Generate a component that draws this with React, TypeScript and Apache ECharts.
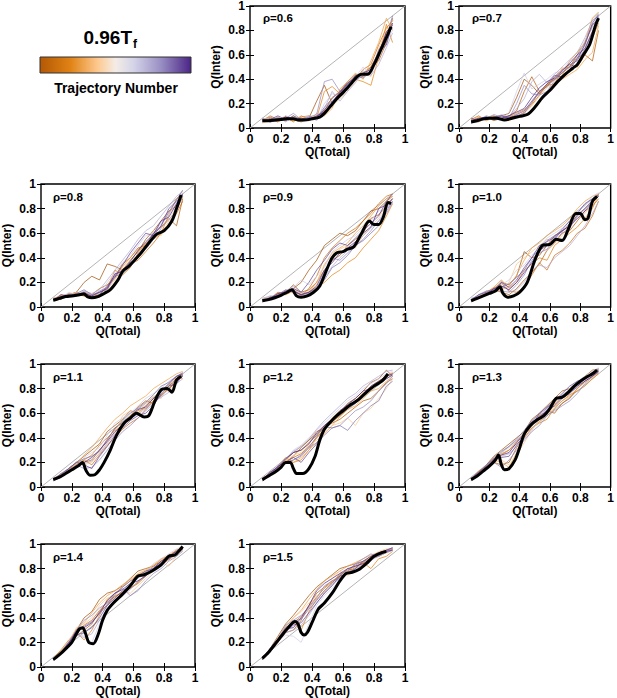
import React, { useEffect, useRef } from 'react';
import * as echarts from 'echarts';

const FONT = '"Liberation Sans", Arial, Helvetica, sans-serif';

// shared Q(Total) grid for the thin trajectories
const TX = [0.08, 0.13, 0.18, 0.23, 0.28, 0.33, 0.38, 0.43, 0.48, 0.53, 0.58, 0.63, 0.68, 0.73, 0.78, 0.83, 0.88, 0.92];

const TRAJ_COLORS = ['#a0500a', '#b35806', '#cc6a10', '#e08214', '#eea24a', '#f8c98f', '#cfcde6', '#b2abd2', '#978cc3', '#8073ac', '#65499b', '#4f2a87'];

const RHO_LABELS = ['ρ=0.6', 'ρ=0.7', 'ρ=0.8', 'ρ=0.9', 'ρ=1.0', 'ρ=1.1', 'ρ=1.2', 'ρ=1.3', 'ρ=1.4', 'ρ=1.5'];

const DIAG = [[0, 0], [1, 1]];

// mean (black) curves: [Q(Total), Q(Inter)]
const M06 = [[0.08,0.06],[0.12,0.06],[0.16,0.065],[0.2,0.07],[0.24,0.075],[0.28,0.075],[0.31,0.065],[0.35,0.065],[0.4,0.075],[0.45,0.09],[0.48,0.12],[0.52,0.18],[0.56,0.24],[0.6,0.29],[0.65,0.36],[0.69,0.42],[0.72,0.44],[0.76,0.44],[0.8,0.52],[0.84,0.63],[0.88,0.74],[0.91,0.83]];
const M07 = [[0.08,0.05],[0.12,0.06],[0.16,0.075],[0.2,0.08],[0.25,0.08],[0.3,0.065],[0.35,0.08],[0.4,0.095],[0.45,0.11],[0.5,0.17],[0.55,0.25],[0.6,0.31],[0.65,0.38],[0.7,0.44],[0.75,0.49],[0.78,0.52],[0.82,0.6],[0.86,0.68],[0.9,0.84],[0.92,0.9]];
const M08 = [[0.08,0.055],[0.12,0.07],[0.16,0.085],[0.2,0.09],[0.25,0.1],[0.28,0.105],[0.3,0.085],[0.33,0.075],[0.37,0.085],[0.41,0.11],[0.45,0.14],[0.5,0.22],[0.53,0.29],[0.57,0.33],[0.6,0.37],[0.65,0.44],[0.7,0.52],[0.75,0.59],[0.8,0.62],[0.85,0.7],[0.88,0.8],[0.91,0.91]];
const M09 = [[0.08,0.05],[0.12,0.06],[0.16,0.075],[0.2,0.095],[0.24,0.12],[0.27,0.14],[0.3,0.09],[0.33,0.08],[0.37,0.09],[0.41,0.12],[0.45,0.17],[0.5,0.32],[0.53,0.4],[0.56,0.44],[0.6,0.45],[0.63,0.47],[0.67,0.49],[0.72,0.6],[0.77,0.7],[0.8,0.67],[0.83,0.67],[0.86,0.73],[0.89,0.85],[0.91,0.84]];
const M10 = [[0.08,0.05],[0.12,0.07],[0.16,0.09],[0.2,0.11],[0.24,0.13],[0.27,0.165],[0.29,0.11],[0.32,0.08],[0.36,0.09],[0.4,0.12],[0.45,0.2],[0.5,0.38],[0.55,0.5],[0.6,0.51],[0.64,0.55],[0.68,0.54],[0.72,0.63],[0.77,0.76],[0.8,0.76],[0.83,0.71],[0.85,0.72],[0.88,0.86],[0.91,0.9]];
const M11 = [[0.08,0.06],[0.12,0.08],[0.16,0.11],[0.2,0.14],[0.24,0.17],[0.27,0.2],[0.29,0.14],[0.32,0.095],[0.35,0.1],[0.38,0.14],[0.41,0.2],[0.45,0.3],[0.49,0.42],[0.54,0.52],[0.58,0.56],[0.62,0.6],[0.67,0.57],[0.7,0.58],[0.74,0.7],[0.78,0.79],[0.82,0.8],[0.85,0.77],[0.88,0.87],[0.91,0.9]];
const M12 = [[0.08,0.06],[0.12,0.09],[0.16,0.12],[0.2,0.16],[0.23,0.2],[0.26,0.2],[0.28,0.15],[0.3,0.11],[0.34,0.11],[0.38,0.15],[0.42,0.25],[0.45,0.38],[0.48,0.47],[0.52,0.53],[0.56,0.58],[0.6,0.62],[0.65,0.67],[0.7,0.71],[0.75,0.77],[0.8,0.82],[0.85,0.86],[0.89,0.92]];
const M13 = [[0.08,0.06],[0.12,0.09],[0.16,0.13],[0.2,0.17],[0.24,0.22],[0.26,0.26],[0.28,0.18],[0.3,0.14],[0.33,0.15],[0.37,0.22],[0.4,0.32],[0.43,0.43],[0.47,0.5],[0.52,0.55],[0.56,0.58],[0.6,0.64],[0.64,0.72],[0.68,0.73],[0.72,0.77],[0.76,0.82],[0.8,0.86],[0.85,0.9],[0.88,0.92],[0.91,0.95]];
const M14 = [[0.08,0.06],[0.12,0.1],[0.17,0.16],[0.2,0.2],[0.23,0.27],[0.25,0.31],[0.27,0.32],[0.29,0.27],[0.31,0.2],[0.34,0.19],[0.37,0.26],[0.4,0.38],[0.43,0.46],[0.47,0.52],[0.52,0.58],[0.58,0.66],[0.63,0.74],[0.67,0.75],[0.72,0.78],[0.78,0.83],[0.83,0.9],[0.87,0.91],[0.9,0.95],[0.92,0.98]];
const M15 = [[0.08,0.07],[0.12,0.12],[0.17,0.2],[0.22,0.28],[0.26,0.34],[0.29,0.37],[0.31,0.35],[0.33,0.28],[0.35,0.26],[0.37,0.28],[0.4,0.36],[0.44,0.47],[0.48,0.52],[0.53,0.6],[0.58,0.7],[0.62,0.76],[0.66,0.77],[0.7,0.79],[0.75,0.84],[0.8,0.9],[0.85,0.93],[0.88,0.94]];

// thin trajectories: Q(Inter) at TX (one row per trajectory)
const T06 = [
  [0.05,0.08,0.06,0.09,0.07,0.05,0.08,0.22,0.35,0.2,0.3,0.36,0.42,0.45,0.5,0.62,0.78,0.86],
  [0.07,0.05,0.09,0.06,0.1,0.07,0.06,0.09,0.14,0.25,0.3,0.38,0.44,0.42,0.5,0.55,0.7,0.9],
  [0.06,0.1,0.07,0.09,0.05,0.1,0.07,0.09,0.11,0.19,0.26,0.33,0.4,0.48,0.52,0.68,0.82,0.88],
  [0.06,0.07,0.05,0.08,0.06,0.09,0.1,0.08,0.3,0.34,0.28,0.32,0.4,0.38,0.35,0.58,0.85,0.7],
  [0.07,0.09,0.05,0.1,0.06,0.08,0.06,0.12,0.1,0.16,0.32,0.38,0.45,0.4,0.55,0.7,0.9,0.8],
  [0.04,0.06,0.08,0.07,0.09,0.06,0.07,0.1,0.12,0.18,0.24,0.3,0.38,0.46,0.42,0.65,0.8,0.88],
  [0.08,0.06,0.07,0.1,0.08,0.06,0.08,0.07,0.2,0.28,0.26,0.35,0.42,0.5,0.44,0.6,0.72,0.8],
  [0.05,0.06,0.09,0.05,0.09,0.07,0.1,0.06,0.16,0.3,0.22,0.3,0.37,0.47,0.43,0.52,0.66,0.78],
  [0.05,0.09,0.06,0.08,0.12,0.07,0.09,0.11,0.38,0.4,0.3,0.34,0.39,0.43,0.47,0.57,0.76,0.82],
  [0.08,0.05,0.08,0.06,0.1,0.06,0.09,0.08,0.17,0.24,0.3,0.31,0.43,0.41,0.46,0.64,0.74,0.92],
  [0.06,0.07,0.1,0.07,0.08,0.06,0.08,0.09,0.15,0.22,0.28,0.36,0.43,0.44,0.46,0.62,0.68,0.86],
  [0.07,0.05,0.06,0.09,0.07,0.08,0.07,0.1,0.13,0.21,0.29,0.37,0.41,0.45,0.48,0.59,0.79,0.84],
];
const T07 = [
  [0.06,0.08,0.07,0.09,0.1,0.12,0.25,0.4,0.35,0.28,0.36,0.4,0.45,0.5,0.6,0.7,0.85,0.88],
  [0.05,0.07,0.09,0.06,0.08,0.1,0.14,0.3,0.42,0.3,0.34,0.42,0.48,0.52,0.5,0.6,0.55,0.8],
  [0.07,0.1,0.06,0.09,0.08,0.1,0.09,0.13,0.19,0.27,0.35,0.36,0.48,0.5,0.58,0.6,0.74,0.86],
  [0.07,0.05,0.08,0.1,0.07,0.09,0.12,0.15,0.2,0.3,0.35,0.4,0.43,0.55,0.62,0.7,0.9,0.95],
  [0.06,0.09,0.08,0.1,0.07,0.06,0.09,0.1,0.14,0.22,0.28,0.35,0.4,0.44,0.48,0.56,0.62,0.84],
  [0.04,0.09,0.06,0.08,0.09,0.07,0.1,0.12,0.18,0.26,0.33,0.37,0.5,0.46,0.52,0.66,0.8,0.86],
  [0.06,0.07,0.1,0.08,0.06,0.13,0.3,0.45,0.32,0.36,0.4,0.45,0.47,0.55,0.58,0.72,0.82,0.9],
  [0.05,0.06,0.1,0.08,0.11,0.09,0.16,0.24,0.38,0.44,0.37,0.44,0.5,0.56,0.62,0.74,0.88,0.94],
  [0.05,0.06,0.08,0.11,0.09,0.08,0.2,0.35,0.28,0.27,0.3,0.39,0.46,0.5,0.56,0.64,0.78,0.92],
  [0.04,0.07,0.09,0.07,0.1,0.08,0.1,0.12,0.21,0.29,0.34,0.4,0.45,0.52,0.55,0.69,0.84,0.91],
  [0.08,0.06,0.07,0.09,0.1,0.08,0.11,0.14,0.22,0.3,0.36,0.43,0.42,0.48,0.57,0.68,0.86,0.93],
  [0.06,0.08,0.09,0.07,0.08,0.1,0.13,0.16,0.25,0.33,0.38,0.41,0.47,0.53,0.6,0.65,0.79,0.89],
];
const T08 = [
  [0.06,0.09,0.1,0.12,0.2,0.25,0.22,0.35,0.33,0.3,0.38,0.45,0.55,0.62,0.7,0.78,0.82,0.9],
  [0.05,0.08,0.1,0.09,0.12,0.1,0.15,0.18,0.25,0.35,0.4,0.48,0.5,0.6,0.65,0.72,0.66,0.88],
  [0.06,0.1,0.08,0.12,0.09,0.1,0.08,0.13,0.18,0.3,0.35,0.38,0.45,0.52,0.6,0.66,0.76,0.86],
  [0.07,0.06,0.11,0.1,0.09,0.08,0.12,0.15,0.3,0.26,0.32,0.44,0.52,0.55,0.6,0.75,0.88,0.92],
  [0.07,0.09,0.1,0.12,0.1,0.09,0.11,0.16,0.23,0.33,0.4,0.47,0.51,0.56,0.62,0.67,0.8,0.89],
  [0.05,0.09,0.08,0.12,0.11,0.09,0.1,0.14,0.22,0.32,0.38,0.42,0.48,0.62,0.58,0.7,0.82,0.9],
  [0.06,0.07,0.12,0.1,0.13,0.1,0.11,0.2,0.28,0.36,0.42,0.5,0.58,0.6,0.68,0.75,0.85,0.93],
  [0.05,0.08,0.11,0.09,0.13,0.11,0.14,0.22,0.3,0.38,0.46,0.55,0.62,0.66,0.74,0.82,0.9,0.94],
  [0.07,0.08,0.09,0.11,0.1,0.09,0.13,0.16,0.26,0.3,0.36,0.4,0.47,0.55,0.64,0.71,0.78,0.9],
  [0.06,0.07,0.09,0.11,0.14,0.1,0.12,0.14,0.25,0.27,0.33,0.43,0.5,0.6,0.66,0.77,0.87,0.95],
  [0.05,0.1,0.09,0.1,0.12,0.08,0.1,0.17,0.24,0.34,0.44,0.52,0.6,0.58,0.66,0.8,0.86,0.91],
  [0.06,0.08,0.1,0.09,0.11,0.09,0.12,0.15,0.27,0.29,0.37,0.46,0.53,0.59,0.7,0.73,0.84,0.92],
];
const T09 = [
  [0.05,0.07,0.1,0.13,0.15,0.2,0.3,0.38,0.5,0.55,0.6,0.58,0.62,0.7,0.78,0.8,0.86,0.9],
  [0.06,0.08,0.09,0.12,0.18,0.12,0.14,0.2,0.3,0.38,0.42,0.5,0.55,0.6,0.72,0.75,0.82,0.88],
  [0.05,0.07,0.12,0.11,0.14,0.09,0.15,0.25,0.4,0.48,0.54,0.6,0.64,0.7,0.76,0.84,0.9,0.92],
  [0.05,0.06,0.11,0.1,0.13,0.1,0.12,0.16,0.2,0.26,0.3,0.36,0.4,0.48,0.55,0.62,0.74,0.84],
  [0.06,0.08,0.1,0.12,0.15,0.11,0.12,0.2,0.34,0.44,0.48,0.52,0.6,0.66,0.74,0.82,0.88,0.9],
  [0.07,0.08,0.1,0.14,0.11,0.09,0.13,0.18,0.35,0.42,0.47,0.5,0.48,0.58,0.66,0.72,0.84,0.9],
  [0.05,0.09,0.08,0.12,0.16,0.22,0.18,0.25,0.32,0.45,0.5,0.55,0.58,0.64,0.7,0.78,0.8,0.86],
  [0.07,0.09,0.09,0.13,0.17,0.12,0.1,0.14,0.24,0.33,0.4,0.46,0.52,0.58,0.64,0.7,0.8,0.88],
  [0.06,0.07,0.1,0.11,0.14,0.1,0.11,0.15,0.28,0.4,0.38,0.44,0.5,0.55,0.62,0.7,0.76,0.85],
  [0.05,0.06,0.1,0.14,0.12,0.1,0.12,0.15,0.22,0.32,0.36,0.42,0.5,0.54,0.6,0.66,0.78,0.86],
  [0.04,0.08,0.09,0.13,0.15,0.12,0.2,0.3,0.38,0.47,0.52,0.5,0.56,0.62,0.68,0.74,0.86,0.92],
  [0.06,0.07,0.11,0.12,0.13,0.1,0.12,0.17,0.3,0.36,0.44,0.48,0.53,0.6,0.65,0.8,0.83,0.88],
];
const T10 = [
  [0.06,0.08,0.12,0.15,0.2,0.18,0.25,0.45,0.4,0.42,0.5,0.58,0.62,0.66,0.75,0.8,0.86,0.9],
  [0.05,0.07,0.1,0.14,0.12,0.1,0.15,0.22,0.28,0.35,0.46,0.52,0.6,0.62,0.7,0.78,0.82,0.88],
  [0.06,0.09,0.11,0.14,0.19,0.13,0.12,0.16,0.26,0.36,0.3,0.42,0.46,0.52,0.6,0.64,0.74,0.86],
  [0.06,0.09,0.11,0.16,0.22,0.15,0.2,0.3,0.35,0.4,0.38,0.5,0.55,0.6,0.65,0.72,0.8,0.92],
  [0.05,0.07,0.12,0.16,0.14,0.17,0.26,0.38,0.48,0.52,0.58,0.62,0.66,0.72,0.8,0.86,0.9,0.92],
  [0.04,0.08,0.13,0.12,0.15,0.2,0.35,0.4,0.45,0.5,0.55,0.52,0.58,0.68,0.72,0.76,0.84,0.88],
  [0.07,0.09,0.12,0.14,0.18,0.22,0.3,0.34,0.42,0.48,0.56,0.6,0.64,0.7,0.78,0.82,0.9,0.93],
  [0.07,0.08,0.1,0.13,0.21,0.12,0.14,0.2,0.3,0.34,0.32,0.4,0.45,0.5,0.58,0.66,0.76,0.86],
  [0.05,0.07,0.11,0.15,0.13,0.12,0.18,0.26,0.38,0.44,0.47,0.55,0.6,0.64,0.74,0.8,0.86,0.9],
  [0.05,0.1,0.13,0.14,0.16,0.19,0.24,0.3,0.4,0.47,0.54,0.58,0.61,0.68,0.74,0.8,0.87,0.91],
  [0.06,0.1,0.12,0.13,0.2,0.16,0.22,0.32,0.4,0.5,0.53,0.57,0.63,0.7,0.76,0.84,0.88,0.91],
  [0.05,0.08,0.1,0.15,0.17,0.14,0.2,0.28,0.36,0.46,0.5,0.56,0.62,0.66,0.72,0.78,0.85,0.9],
];
const T11 = [
  [0.07,0.1,0.15,0.2,0.25,0.3,0.35,0.45,0.5,0.55,0.62,0.6,0.66,0.72,0.78,0.82,0.88,0.9],
  [0.06,0.09,0.14,0.18,0.2,0.22,0.3,0.38,0.48,0.52,0.58,0.65,0.7,0.68,0.75,0.8,0.85,0.92],
  [0.06,0.1,0.14,0.19,0.22,0.18,0.26,0.34,0.4,0.47,0.52,0.56,0.63,0.7,0.74,0.8,0.86,0.9],
  [0.05,0.11,0.12,0.16,0.22,0.26,0.34,0.4,0.46,0.5,0.55,0.62,0.64,0.7,0.8,0.78,0.9,0.88],
  [0.07,0.09,0.13,0.18,0.26,0.32,0.4,0.48,0.55,0.6,0.66,0.7,0.74,0.8,0.84,0.88,0.92,0.94],
  [0.06,0.08,0.13,0.19,0.18,0.2,0.28,0.35,0.44,0.58,0.62,0.6,0.68,0.74,0.72,0.84,0.86,0.93],
  [0.07,0.1,0.14,0.17,0.24,0.28,0.32,0.42,0.52,0.56,0.6,0.66,0.72,0.76,0.8,0.86,0.9,0.92],
  [0.05,0.08,0.12,0.17,0.19,0.21,0.27,0.36,0.43,0.51,0.56,0.59,0.64,0.69,0.73,0.77,0.84,0.88],
  [0.05,0.09,0.12,0.18,0.15,0.16,0.22,0.3,0.38,0.45,0.5,0.56,0.62,0.68,0.74,0.8,0.88,0.9],
  [0.06,0.11,0.15,0.2,0.23,0.25,0.29,0.39,0.47,0.54,0.6,0.64,0.69,0.75,0.82,0.85,0.9,0.93],
  [0.06,0.1,0.15,0.2,0.18,0.15,0.25,0.33,0.42,0.48,0.54,0.58,0.6,0.66,0.76,0.82,0.84,0.91],
  [0.07,0.08,0.13,0.16,0.2,0.24,0.3,0.37,0.45,0.5,0.57,0.63,0.65,0.72,0.78,0.84,0.9,0.92],
];
const T12 = [
  [0.06,0.12,0.16,0.22,0.28,0.3,0.36,0.42,0.5,0.55,0.6,0.68,0.72,0.78,0.85,0.88,0.95,0.9],
  [0.07,0.11,0.15,0.2,0.25,0.32,0.38,0.45,0.48,0.52,0.55,0.6,0.65,0.7,0.72,0.78,0.85,0.88],
  [0.07,0.11,0.16,0.21,0.24,0.27,0.33,0.4,0.47,0.53,0.58,0.64,0.7,0.76,0.82,0.86,0.9,0.92],
  [0.05,0.1,0.17,0.24,0.2,0.22,0.3,0.4,0.46,0.56,0.62,0.66,0.7,0.76,0.8,0.86,0.9,0.93],
  [0.06,0.1,0.15,0.22,0.2,0.24,0.3,0.36,0.43,0.5,0.57,0.63,0.66,0.72,0.78,0.8,0.86,0.9],
  [0.06,0.12,0.14,0.21,0.26,0.28,0.34,0.38,0.44,0.5,0.52,0.56,0.5,0.6,0.64,0.72,0.8,0.88],
  [0.07,0.1,0.16,0.22,0.3,0.34,0.4,0.46,0.52,0.58,0.64,0.7,0.74,0.8,0.84,0.88,0.92,0.94],
  [0.05,0.12,0.17,0.23,0.29,0.33,0.39,0.47,0.54,0.6,0.66,0.72,0.76,0.82,0.86,0.9,0.94,0.95],
  [0.06,0.11,0.15,0.19,0.22,0.25,0.32,0.36,0.42,0.48,0.5,0.56,0.62,0.65,0.7,0.78,0.84,0.9],
  [0.06,0.11,0.14,0.2,0.22,0.26,0.32,0.41,0.49,0.48,0.5,0.46,0.54,0.6,0.66,0.7,0.82,0.86],
  [0.05,0.1,0.17,0.2,0.24,0.2,0.28,0.35,0.48,0.54,0.6,0.64,0.68,0.74,0.82,0.86,0.9,0.92],
  [0.06,0.12,0.16,0.23,0.28,0.3,0.35,0.44,0.5,0.55,0.62,0.67,0.72,0.78,0.8,0.84,0.88,0.91],
];
const T13 = [
  [0.07,0.12,0.18,0.25,0.3,0.35,0.4,0.45,0.55,0.6,0.66,0.72,0.78,0.8,0.85,0.9,0.95,0.96],
  [0.06,0.1,0.15,0.2,0.18,0.2,0.32,0.42,0.5,0.58,0.62,0.6,0.68,0.72,0.8,0.86,0.9,0.94],
  [0.06,0.12,0.17,0.23,0.27,0.3,0.37,0.44,0.5,0.55,0.6,0.67,0.73,0.78,0.83,0.88,0.92,0.95],
  [0.05,0.13,0.17,0.22,0.26,0.3,0.35,0.4,0.48,0.52,0.55,0.64,0.7,0.75,0.78,0.82,0.88,0.92],
  [0.07,0.11,0.16,0.22,0.2,0.16,0.28,0.4,0.48,0.53,0.59,0.65,0.7,0.74,0.8,0.85,0.89,0.93],
  [0.07,0.11,0.16,0.24,0.22,0.18,0.26,0.36,0.46,0.54,0.6,0.68,0.74,0.78,0.84,0.88,0.92,0.96],
  [0.06,0.12,0.18,0.21,0.28,0.32,0.38,0.44,0.52,0.56,0.64,0.7,0.72,0.8,0.86,0.9,0.94,0.97],
  [0.05,0.1,0.15,0.21,0.25,0.27,0.33,0.39,0.47,0.55,0.63,0.69,0.75,0.79,0.84,0.87,0.91,0.94],
  [0.05,0.1,0.15,0.2,0.16,0.22,0.3,0.38,0.45,0.5,0.58,0.62,0.66,0.7,0.76,0.84,0.9,0.93],
  [0.06,0.12,0.18,0.24,0.29,0.33,0.39,0.46,0.54,0.59,0.64,0.71,0.74,0.77,0.81,0.89,0.93,0.96],
  [0.07,0.12,0.17,0.23,0.24,0.25,0.34,0.42,0.5,0.6,0.65,0.7,0.76,0.82,0.86,0.88,0.93,0.95],
  [0.06,0.11,0.16,0.22,0.26,0.28,0.36,0.43,0.53,0.57,0.62,0.66,0.72,0.76,0.82,0.86,0.9,0.94],
];
const T14 = [
  [0.07,0.13,0.2,0.3,0.4,0.45,0.55,0.6,0.62,0.66,0.72,0.78,0.8,0.82,0.86,0.9,0.95,0.97],
  [0.06,0.12,0.19,0.25,0.3,0.35,0.45,0.5,0.58,0.6,0.64,0.68,0.74,0.8,0.84,0.88,0.92,0.96],
  [0.06,0.12,0.2,0.28,0.34,0.38,0.46,0.53,0.57,0.61,0.64,0.69,0.75,0.79,0.83,0.87,0.92,0.96],
  [0.07,0.14,0.22,0.28,0.22,0.3,0.42,0.55,0.6,0.65,0.7,0.75,0.78,0.82,0.88,0.9,0.94,0.96],
  [0.07,0.13,0.21,0.31,0.36,0.44,0.52,0.58,0.62,0.67,0.71,0.76,0.79,0.83,0.87,0.91,0.95,0.97],
  [0.06,0.11,0.2,0.32,0.35,0.4,0.5,0.56,0.58,0.62,0.6,0.66,0.72,0.78,0.85,0.82,0.9,0.95],
  [0.05,0.13,0.21,0.27,0.25,0.2,0.35,0.48,0.55,0.6,0.68,0.72,0.76,0.84,0.88,0.92,0.96,0.98],
  [0.06,0.11,0.19,0.26,0.24,0.27,0.38,0.47,0.54,0.58,0.63,0.7,0.74,0.78,0.82,0.88,0.92,0.95],
  [0.07,0.12,0.18,0.3,0.38,0.42,0.48,0.52,0.6,0.64,0.58,0.62,0.7,0.76,0.8,0.86,0.9,0.94],
  [0.05,0.12,0.2,0.3,0.33,0.37,0.43,0.51,0.59,0.65,0.7,0.73,0.77,0.81,0.85,0.89,0.94,0.97],
  [0.06,0.11,0.2,0.26,0.28,0.32,0.4,0.5,0.56,0.62,0.66,0.74,0.78,0.8,0.84,0.88,0.93,0.97],
  [0.06,0.12,0.19,0.29,0.32,0.36,0.44,0.54,0.6,0.63,0.68,0.7,0.74,0.8,0.86,0.9,0.94,0.96],
];
const T15 = [
  [0.07,0.15,0.25,0.35,0.42,0.5,0.58,0.65,0.7,0.75,0.8,0.82,0.84,0.86,0.9,0.92,0.95,0.96],
  [0.06,0.13,0.2,0.28,0.3,0.38,0.5,0.6,0.65,0.7,0.74,0.8,0.78,0.84,0.88,0.9,0.93,0.95],
  [0.07,0.14,0.22,0.3,0.36,0.41,0.49,0.57,0.64,0.69,0.73,0.77,0.81,0.85,0.89,0.92,0.94,0.96],
  [0.08,0.14,0.22,0.32,0.36,0.3,0.45,0.55,0.62,0.68,0.76,0.78,0.82,0.85,0.8,0.88,0.9,0.94],
  [0.06,0.13,0.21,0.33,0.4,0.46,0.55,0.63,0.7,0.74,0.78,0.82,0.85,0.88,0.91,0.93,0.95,0.96],
  [0.06,0.12,0.24,0.3,0.4,0.45,0.52,0.58,0.6,0.72,0.78,0.74,0.8,0.84,0.9,0.94,0.96,0.96],
  [0.07,0.14,0.21,0.26,0.25,0.2,0.35,0.5,0.58,0.64,0.7,0.76,0.8,0.82,0.86,0.92,0.94,0.95],
  [0.07,0.15,0.23,0.28,0.3,0.34,0.42,0.52,0.6,0.67,0.72,0.77,0.8,0.83,0.87,0.9,0.93,0.95],
  [0.06,0.15,0.23,0.34,0.38,0.42,0.48,0.56,0.66,0.7,0.72,0.78,0.84,0.88,0.92,0.9,0.94,0.96],
  [0.06,0.14,0.22,0.32,0.37,0.39,0.47,0.54,0.62,0.68,0.75,0.79,0.83,0.86,0.88,0.91,0.95,0.97],
  [0.07,0.13,0.2,0.29,0.34,0.36,0.44,0.52,0.6,0.66,0.74,0.76,0.8,0.86,0.9,0.93,0.95,0.97],
  [0.06,0.14,0.22,0.31,0.32,0.4,0.5,0.62,0.68,0.72,0.76,0.8,0.82,0.84,0.88,0.92,0.94,0.95],
];

const MEANS = [M06, M07, M08, M09, M10, M11, M12, M13, M14, M15];
const TRAJS = [T06, T07, T08, T09, T10, T11, T12, T13, T14, T15];

// layout (row, col) of each panel
const CELLS = [[0, 1], [0, 2], [1, 0], [1, 1], [1, 2], [2, 0], [2, 1], [2, 2], [3, 0], [3, 1]];
const COL_LEFT = [40, 250, 459];
const ROW_TOP = [5, 184, 364, 544];
const PW = 155;
const PH = 123;

export default function App() {
  const ref = useRef<HTMLDivElement>(null);
  useEffect(() => {
    const chart = echarts.init(ref.current!, null, { renderer: 'svg' });
    const grid: any[] = [];
    const xAxis: any[] = [];
    const yAxis: any[] = [];
    const series: any[] = [];
    const graphic: any[] = [];
    const labelStyle = { color: '#000', fontFamily: FONT, fontWeight: 'bold', fontSize: 12 };
    const tick = { show: true, inside: true, length: 4, lineStyle: { color: '#000', width: 1 } };

    MEANS.forEach((mean, g) => {
      const [r, c] = CELLS[g];
      const left = COL_LEFT[c];
      const top = ROW_TOP[r];
      grid.push({ left, top, width: PW, height: PH, show: true, borderColor: '#000', borderWidth: 1.4, backgroundColor: 'transparent' });
      const base = { type: 'value', gridIndex: g, min: 0, max: 1, interval: 0.2, splitLine: { show: false }, axisLine: { show: false } };
      xAxis.push({
        ...base, position: 'bottom', axisTick: tick,
        axisLabel: { ...labelStyle, margin: 5 },
        name: 'Q(Total)', nameLocation: 'middle', nameGap: 17,
        nameTextStyle: { ...labelStyle },
      });
      xAxis.push({ ...base, position: 'top', axisTick: tick, axisLabel: { show: false } });
      yAxis.push({
        ...base, position: 'left', axisTick: tick,
        axisLabel: { ...labelStyle, margin: 5 },
        name: 'Q(Inter)', nameLocation: 'middle', nameGap: 28,
        nameTextStyle: { ...labelStyle },
      });
      yAxis.push({ ...base, position: 'right', axisTick: tick, axisLabel: { show: false } });

      const xi = 2 * g;
      series.push({
        type: 'line', xAxisIndex: xi, yAxisIndex: xi, data: DIAG,
        symbol: 'none', silent: true, lineStyle: { color: '#b4b4b4', width: 1 }, z: 1,
      });
      TRAJS[g].forEach((ys, k) => {
        series.push({
          type: 'line', xAxisIndex: xi, yAxisIndex: xi,
          data: TX.map((x, i) => [x, ys[i]]),
          symbol: 'none', silent: true,
          lineStyle: { color: TRAJ_COLORS[k], width: 0.8, opacity: 0.9 }, z: 2,
        });
      });
      series.push({
        type: 'line', xAxisIndex: xi, yAxisIndex: xi, data: mean,
        symbol: 'none', silent: true, smooth: 0.3,
        lineStyle: { color: '#000', width: 3 }, z: 3,
      });
      graphic.push({
        type: 'text', x: left + 13, y: top + 13,
        style: { text: RHO_LABELS[g], fill: '#000', fontFamily: FONT, fontWeight: 'bold', fontSize: 11.5, verticalAlign: 'middle', align: 'left' },
        z: 10,
      });
    });

    // colour bar legend
    graphic.push({
      type: 'text', x: 132, y: 37,
      style: { text: '0.96T', fill: '#000', fontFamily: FONT, fontWeight: 'bold', fontSize: 19, align: 'right', verticalAlign: 'middle' },
    });
    graphic.push({
      type: 'text', x: 133, y: 44,
      style: { text: 'f', fill: '#000', fontFamily: FONT, fontWeight: 'bold', fontSize: 12, align: 'left', verticalAlign: 'middle' },
    });
    graphic.push({
      type: 'rect', shape: { x: 40, y: 57, width: 151, height: 16 },
      style: {
        fill: new echarts.graphic.LinearGradient(0, 0, 1, 0, [
          { offset: 0, color: '#b35806' },
          { offset: 0.2, color: '#e08214' },
          { offset: 0.38, color: '#fdc88e' },
          { offset: 0.5, color: '#f4ece6' },
          { offset: 0.62, color: '#d4d4e8' },
          { offset: 0.8, color: '#9a8fc4' },
          { offset: 1, color: '#4a2585' },
        ]),
        stroke: '#333', lineWidth: 1,
      },
    });
    graphic.push({
      type: 'text', x: 116, y: 88,
      style: { text: 'Trajectory Number', fill: '#000', fontFamily: FONT, fontWeight: 'bold', fontSize: 14, align: 'center', verticalAlign: 'middle' },
    });

    chart.setOption({ animation: false, backgroundColor: '#fff', grid, xAxis, yAxis, series, graphic });
    return () => chart.dispose();
  }, []);
  return <div ref={ref} style={{ position: 'fixed', left: 0, top: 0, width: 617, height: 698, background: '#fff' }} />;
}
